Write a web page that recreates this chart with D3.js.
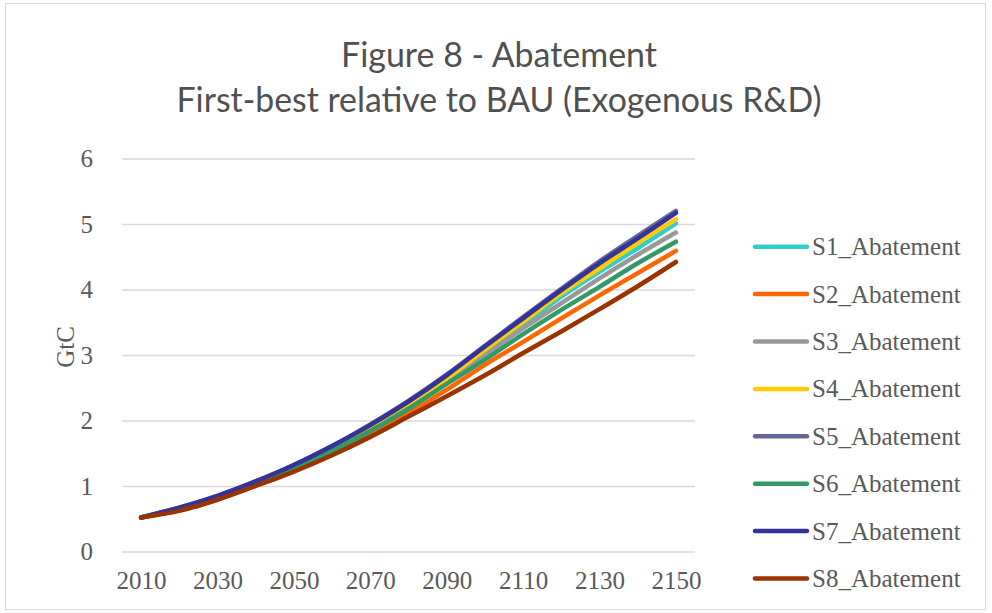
<!DOCTYPE html>
<html><head><meta charset="utf-8">
<script src="https://cdn.jsdelivr.net/npm/d3@7"></script>
<style>body{margin:0;background:#fff}svg{display:block}</style>
</head><body>
<svg id="chart" width="992" height="613"></svg>
<script>
const years = [2010,2020,2030,2040,2050,2060,2070,2080,2090,2100,2110,2120,2130,2140,2150];
const tickYears = [2010,2030,2050,2070,2090,2110,2130,2150];
const yTicks = [0,1,2,3,4,5,6];
const seriesNames = ["S1_Abatement","S2_Abatement","S3_Abatement","S4_Abatement","S5_Abatement","S6_Abatement","S7_Abatement","S8_Abatement"];
const seriesColors = ["#33CCCC","#FF6600","#999999","#FFCC00","#666699","#339966","#333399","#993300"];
const s1 = [0.52,0.66,0.84,1.05,1.30,1.58,1.89,2.24,2.62,3.05,3.46,3.89,4.27,4.63,5.01];
const s2 = [0.52,0.63,0.80,1.01,1.24,1.50,1.79,2.11,2.47,2.85,3.20,3.56,3.91,4.25,4.59];
const s3 = [0.52,0.65,0.83,1.04,1.29,1.56,1.87,2.21,2.60,3.00,3.41,3.79,4.17,4.53,4.87];
const s4 = [0.52,0.66,0.84,1.06,1.31,1.59,1.91,2.26,2.64,3.08,3.51,3.94,4.32,4.71,5.07];
const s5 = [0.52,0.67,0.85,1.07,1.32,1.61,1.94,2.30,2.70,3.14,3.58,4.01,4.43,4.82,5.20];
const s6 = [0.52,0.64,0.82,1.03,1.27,1.54,1.84,2.18,2.56,2.93,3.32,3.69,4.04,4.40,4.73];
const s7 = [0.52,0.67,0.85,1.07,1.32,1.61,1.93,2.29,2.69,3.13,3.56,3.99,4.40,4.78,5.17];
const s8 = [0.52,0.62,0.79,1.00,1.22,1.47,1.75,2.06,2.37,2.69,3.03,3.36,3.70,4.05,4.42];
const seriesValues = [s1,s2,s3,s4,s5,s6,s7,s8];

const svg = d3.select("#chart");
const textColor = "#595959";
const serif = "'Liberation Serif', 'DejaVu Serif', serif";

// border
svg.append("rect").attr("x",5.5).attr("y",3.5).attr("width",980).attr("height",606)
  .attr("fill","#fff").attr("stroke","#d9d9d9").attr("stroke-width",1);

// title
const titleLines = [{t:"Figure 8 - Abatement", y:53, w:316},{t:"First-best relative to BAU (Exogenous R&D)", y:98, w:645}];
titleLines.forEach(l=>{
  svg.append("text").attr("x",499).attr("y",l.y)
    .attr("text-anchor","middle").attr("dominant-baseline","central")
    .attr("font-family","Lato, 'Open Sans', sans-serif").attr("font-size",35)
    .attr("textLength",l.w).attr("lengthAdjust","spacingAndGlyphs")
    .attr("fill","#505050").text(l.t);
});

const plotL = 122, plotR = 695;
const x = d3.scalePoint().domain(years).range([plotL,plotR]).padding(0.5);
const y = d3.scaleLinear().domain([0,6]).range([551.5,158.5]);

// gridlines
const yAxis = d3.axisLeft(y).tickValues(yTicks).tickSize(-(plotR-plotL)).tickFormat(d3.format("d")).tickPadding(29);
const gy = svg.append("g").attr("transform",`translate(${plotL},0)`).call(yAxis);
gy.select(".domain").remove();
gy.selectAll(".tick line").attr("stroke","#d9d9d9").attr("stroke-width",1.3);
gy.selectAll(".tick text").attr("font-family",serif).attr("font-size",25).attr("fill",textColor);

const xAxis = d3.axisBottom(x).tickValues(tickYears).tickSize(0).tickPadding(20);
const gx = svg.append("g").attr("transform",`translate(0,551.5)`).call(xAxis);
gx.select(".domain").remove();
gx.selectAll(".tick text").attr("font-family",serif).attr("font-size",25).attr("fill",textColor);

// axis title
svg.append("text").attr("transform","translate(65,347) rotate(-90)")
  .attr("text-anchor","middle").attr("dominant-baseline","central")
  .attr("font-family",serif).attr("font-size",25).attr("fill",textColor).text("GtC");

// lines
const line = d3.line().x((d,i)=>x(years[i])).y(d=>y(d)).curve(d3.curveCatmullRom.alpha(0.5));
seriesValues.forEach((vals,i)=>{
  svg.append("path").attr("d",line(vals)).attr("fill","none")
    .attr("stroke",seriesColors[i]).attr("stroke-width",4.5)
    .attr("stroke-linecap","round").attr("stroke-linejoin","round");
});

// legend
const lg = svg.append("g");
seriesNames.forEach((n,i)=>{
  const ly = 246.7 + i*47.4;
  lg.append("line").attr("x1",755).attr("x2",807).attr("y1",ly).attr("y2",ly)
    .attr("stroke",seriesColors[i]).attr("stroke-width",4.5).attr("stroke-linecap","round");
  lg.append("text").attr("x",812).attr("y",ly).attr("dominant-baseline","central")
    .attr("font-family",serif).attr("font-size",25).attr("fill",textColor).text(n);
});
</script>
</body></html>
